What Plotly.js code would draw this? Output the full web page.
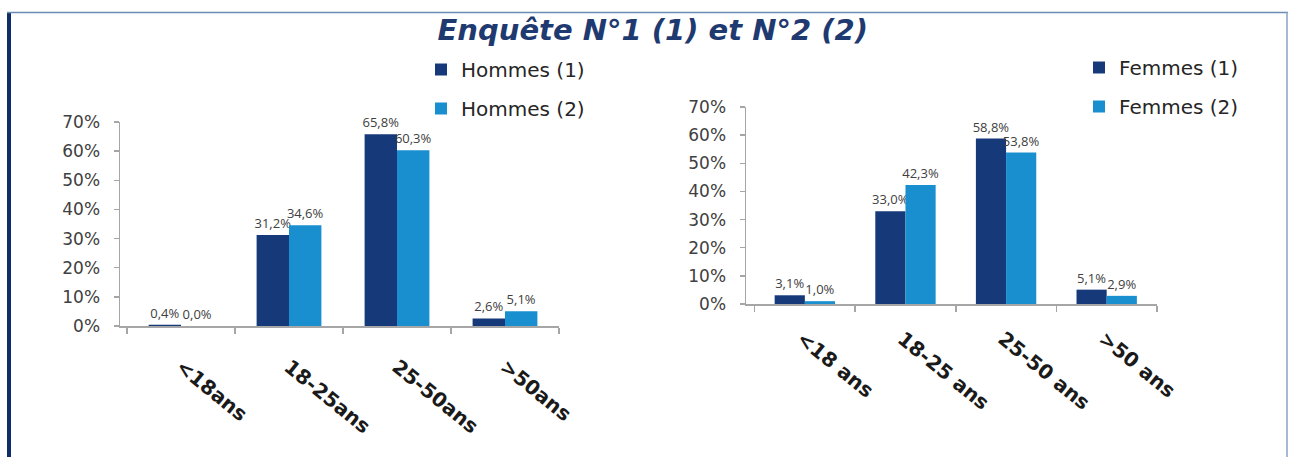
<!DOCTYPE html>
<html>
<head>
<meta charset="utf-8">
<script src="https://cdn.plot.ly/plotly-3.0.1.min.js"></script>
<style>
  html, body { margin: 0; padding: 0; background: #ffffff; }
  #chart { width: 1290px; height: 457px; }
</style>
</head>
<body>
<div id="chart"></div>
<script>
// ---- Data ----
const titleText = "Enquête N°1 (1) et N°2 (2)";
const categoriesHommes = ["<18ans", "18-25ans", "25-50ans", ">50ans"];
const categoriesFemmes = ["<18 ans", "18-25 ans", "25-50 ans", ">50 ans"];
const hommes1 = [0.4, 31.2, 65.8, 2.6];
const hommes2 = [0.0, 34.6, 60.3, 5.1];
const femmes1 = [3.1, 33.0, 58.8, 5.1];
const femmes2 = [1.0, 42.3, 53.8, 2.9];
const seriesNames = ["Hommes (1)", "Hommes (2)", "Femmes (1)", "Femmes (2)"];
const yTicks = [0, 10, 20, 30, 40, 50, 60, 70];
const yTickLabels = ["0%", "10%", "20%", "30%", "40%", "50%", "60%", "70%"];

// ---- Style ----
const W = 1290, H = 457;
const DARK = "#16397a";
const LIGHT = "#1a8fd0";
const FONT = "DejaVu Sans";
const px = v => v / W;
const py = v => 1 - v / H;
const fmt = arr => arr.map(v => v.toFixed(1).replace(".", ",") + "%");

function barTrace(name, cats, vals, color, xa, ya, leg, grp) {
  return {
    type: "bar", name: name, x: cats, y: vals,
    xaxis: xa, yaxis: ya, legend: leg, legendgroup: grp,
    marker: { color: color, line: { width: 0 } },
    text: fmt(vals), textposition: "outside", constraintext: "none",
    cliponaxis: false,
    textfont: { family: "Open Sans", size: 13, color: "#404040" },
    hoverinfo: "skip"
  };
}

const data = [
  barTrace(seriesNames[0], categoriesHommes, hommes1, DARK, "x", "y", "legend", "a"),
  barTrace(seriesNames[1], categoriesHommes, hommes2, LIGHT, "x", "y", "legend", "b"),
  barTrace(seriesNames[2], categoriesFemmes, femmes1, DARK, "x2", "y2", "legend2", "c"),
  barTrace(seriesNames[3], categoriesFemmes, femmes2, LIGHT, "x2", "y2", "legend2", "d")
];

function yAxis(domain, anchor) {
  return {
    domain: domain, anchor: anchor, range: [0, 70],
    tickmode: "array", tickvals: yTicks, ticktext: yTickLabels,
    showgrid: false, zeroline: false,
    showline: true, linecolor: "#a6a6a6", linewidth: 1.5,
    ticks: "outside", ticklen: 5, tickcolor: "#a6a6a6", tickwidth: 1.5,
    ticklabelstandoff: 10,
    tickfont: { family: FONT, size: 17, color: "#404040" },
    fixedrange: true
  };
}
function xAxis(domain, anchor, range, shift, standoff) {
  return {
    domain: domain, anchor: anchor, type: "category", range: range,
    showgrid: false, zeroline: false,
    showline: true, linecolor: "#a6a6a6", linewidth: 1.5,
    ticks: "outside", tickson: "boundaries", ticklen: 6, tickcolor: "#a6a6a6", tickwidth: 1.5,
    tickangle: 39, ticklabelshift: shift, ticklabelstandoff: standoff,
    tickfont: { family: FONT, size: 20, color: "#1a1a1a", weight: "bold" },
    fixedrange: true
  };
}

const layout = {
  width: W, height: H,
  margin: { l: 0, r: 0, t: 0, b: 0 },
  paper_bgcolor: "#ffffff", plot_bgcolor: "rgba(0,0,0,0)",
  barmode: "group", bargap: 0.4, bargroupgap: 0,
  title: {
    text: titleText, x: 0.506, xanchor: "center", y: py(30), yanchor: "middle",
    font: { family: FONT, size: 29, color: "#1f3a70", weight: "bold", style: "italic" }
  },
  xaxis: xAxis([px(120), px(559)], "y", [-0.565, 3.5], 0, 20),
  yaxis: yAxis([1 - 326 / H, 1 - 122 / H], "x"),
  xaxis2: xAxis([px(746), px(1157)], "y2", [-0.585, 3.5], -3, 14),
  yaxis2: yAxis([1 - 304 / H, 1 - 107 / H], "x2"),
  legend: {
    x: px(421), y: py(50), xanchor: "left", yanchor: "top",
    bgcolor: "rgba(0,0,0,0)", tracegroupgap: 10,
    font: { family: FONT, size: 20, color: "#262626" }
  },
  legend2: {
    x: px(1079), y: py(48), xanchor: "left", yanchor: "top",
    bgcolor: "rgba(0,0,0,0)", tracegroupgap: 10,
    font: { family: FONT, size: 20, color: "#262626" }
  },
  showlegend: true,
  shapes: [
    { type: "rect", xref: "paper", yref: "paper", x0: px(7), x1: px(11), y0: 0, y1: py(12),
      fillcolor: "#0f2d6b", line: { width: 0 } },
    { type: "line", xref: "paper", yref: "paper", x0: px(7), x1: px(1288), y0: py(12.5), y1: py(12.5),
      line: { color: "#6b8db5", width: 1.5 } },
    { type: "line", xref: "paper", yref: "paper", x0: px(1287), x1: px(1287), y0: 0, y1: py(12),
      line: { color: "#8aa3c2", width: 1.5 } }
  ]
};

Plotly.newPlot("chart", data, layout, { staticPlot: true, displayModeBar: false });
</script>
</body>
</html>
